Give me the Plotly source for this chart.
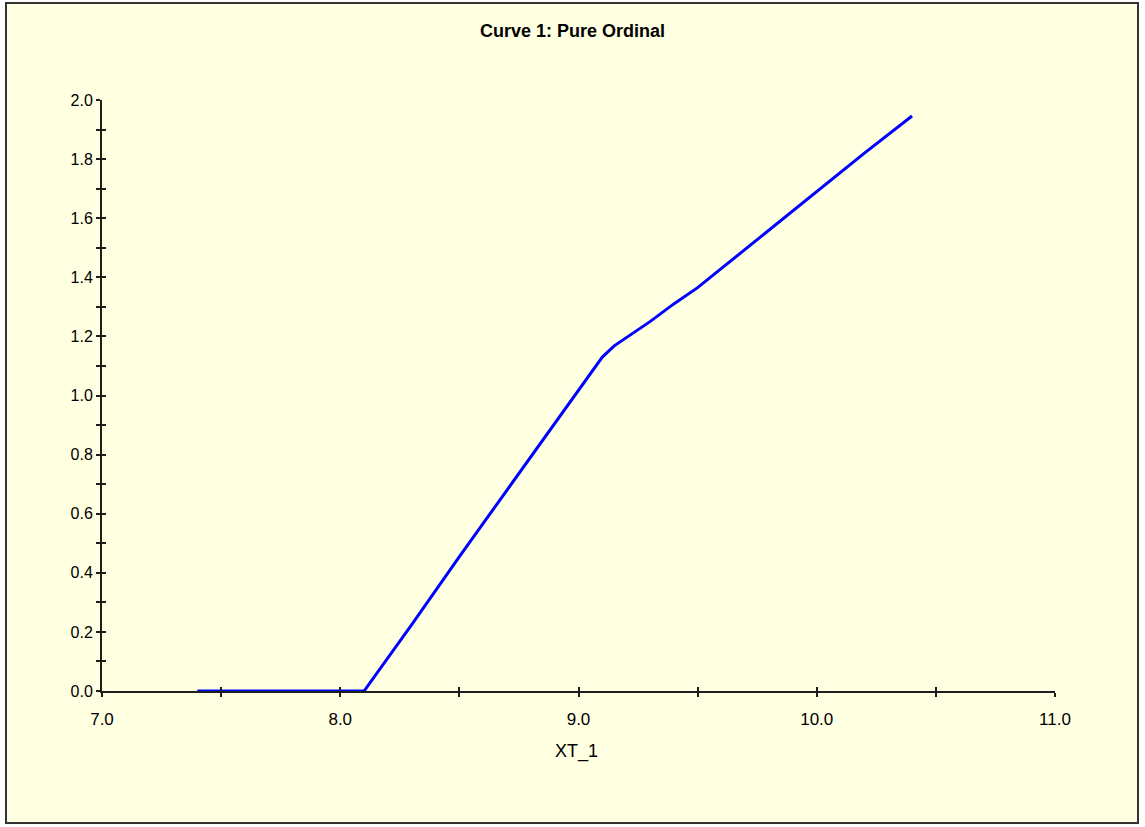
import plotly.graph_objects as go

# Data
x_vals = [7.4, 8.1, 8.3, 8.5, 8.7, 8.9, 9.0, 9.1, 9.15, 9.2, 9.3, 9.4, 9.5, 9.6, 9.8, 10.0, 10.2, 10.4]
y_vals = [0.0, 0.0, 0.225, 0.455, 0.68, 0.905, 1.02, 1.13, 1.168, 1.196, 1.25, 1.31, 1.365, 1.43, 1.56, 1.69, 1.82, 1.946]

title_text = "Curve 1: Pure Ordinal"
x_title = "XT_1"
x_range = [7.0, 11.0]
y_range = [0.0, 2.0]

BG = "#FFFFE1"
AX = "#1e1e1e"
FONT = "Liberation Sans, Arial, sans-serif"

fig = go.Figure()
fig.add_trace(go.Scatter(x=x_vals, y=y_vals, mode="lines",
                         line=dict(color="#0000FF", width=3),
                         showlegend=False, hoverinfo="skip"))
# empty trace so the overlay (inside-tick) axes are created
fig.add_trace(go.Scatter(x=[], y=[], xaxis="x2", yaxis="y2", showlegend=False))

W, H = 1145, 827
L, R, T, B = 102, 90, 100, 136
pw, ph = W - L - R, H - T - B

fig.update_layout(
    width=W, height=H,
    margin=dict(l=L, r=R, t=T, b=B, pad=0),
    paper_bgcolor="white",
    plot_bgcolor="rgba(0,0,0,0)",
    font=dict(family=FONT, size=16, color="#000000"),
    title=dict(text="<b>" + title_text + "</b>", x=572.5 / W, xref="container",
               xanchor="center", y=1 - 31 / H, yanchor="middle",
               font=dict(size=18, family=FONT, color="#000000")),
    xaxis=dict(range=x_range, tick0=7, dtick=1, tickformat=".1f",
               showline=True, linecolor=AX, linewidth=2,
               ticks="outside", ticklen=4, tickwidth=2, tickcolor=AX,
               minor=dict(dtick=0.5, tick0=7, ticks="outside", ticklen=4, tickwidth=2, tickcolor=AX),
               showgrid=False, zeroline=False, ticklabelstandoff=8,
               tickfont=dict(size=17)),
    yaxis=dict(range=y_range, tick0=0, dtick=0.2, tickformat=".1f",
               showline=True, linecolor=AX, linewidth=2,
               ticks="outside", ticklen=4, tickwidth=2, tickcolor=AX,
               minor=dict(dtick=0.1, tick0=0, ticks="outside", ticklen=4, tickwidth=2, tickcolor=AX),
               showgrid=False, zeroline=False, tickfont=dict(size=16)),
    xaxis2=dict(range=x_range, overlaying="x", anchor="y2", side="bottom",
                tick0=7, dtick=0.5, ticks="inside", ticklen=4, tickwidth=2, tickcolor=AX,
                showticklabels=False, showline=False, showgrid=False, zeroline=False),
    yaxis2=dict(range=y_range, overlaying="y", anchor="x2", side="left",
                tick0=0, dtick=0.1, ticks="inside", ticklen=4, tickwidth=2, tickcolor=AX,
                showticklabels=False, showline=False, showgrid=False, zeroline=False),
)

# yellow panel with dark border
x0 = (6 - L) / pw
x1 = (1138 - L) / pw
y1 = (H - B - 3) / ph
y0 = (H - B - 823) / ph
fig.add_shape(type="rect", xref="paper", yref="paper", x0=x0, x1=x1, y0=y0, y1=y1,
              fillcolor=BG, line=dict(color="#333333", width=2), layer="below")

fig.add_annotation(text=x_title, xref="paper", yref="paper",
                   x=(576 - L) / pw, y=(H - B - 751) / ph,
                   xanchor="center", yanchor="middle", showarrow=False,
                   font=dict(size=18, family=FONT, color="#000000"))

fig.write_html("out.html", config={"displayModeBar": False},
               post_script="document.body.style.margin='0';")
